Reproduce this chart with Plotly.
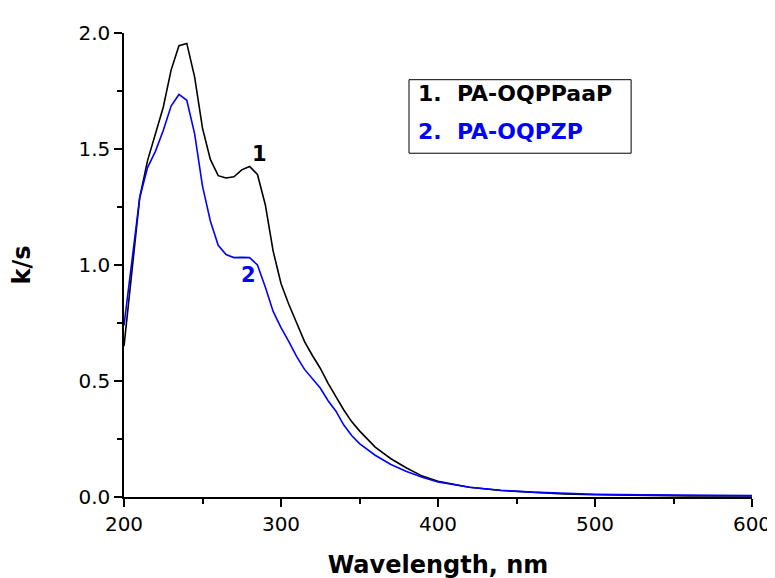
import plotly.graph_objects as go

wavelength = [200, 205, 210, 215, 220, 225, 230, 235, 240, 245, 250, 255, 260, 265, 270,
              275, 280, 285, 290, 295, 300, 305, 310, 315, 320, 325, 330, 335, 340, 345,
              350, 360, 370, 380, 390, 400, 420, 440, 460, 480, 500, 530, 560, 600]

ks_pa_oqppaap = [0.65, 0.97, 1.29, 1.45, 1.56, 1.68, 1.84, 1.945, 1.955, 1.81, 1.59, 1.455,
                 1.385, 1.375, 1.38, 1.41, 1.425, 1.39, 1.26, 1.06, 0.92, 0.83, 0.75, 0.67,
                 0.61, 0.555, 0.49, 0.43, 0.375, 0.325, 0.285, 0.215, 0.165, 0.125, 0.09,
                 0.068, 0.042, 0.028, 0.019, 0.013, 0.010, 0.007, 0.005, 0.004]

ks_pa_oqpzp = [0.74, 1.02, 1.29, 1.42, 1.49, 1.58, 1.685, 1.735, 1.71, 1.565, 1.34, 1.19,
               1.085, 1.045, 1.032, 1.033, 1.032, 1.0, 0.905, 0.80, 0.73, 0.67, 0.605, 0.55,
               0.51, 0.47, 0.415, 0.37, 0.31, 0.265, 0.23, 0.18, 0.14, 0.11, 0.085,
               0.065, 0.042, 0.029, 0.021, 0.016, 0.012, 0.009, 0.007, 0.006]

series_names = ["1.  PA-OQPPaaP", "2.  PA-OQPZP"]
series_colors = ["#000000", "#0000ff"]
curve_labels = ["1", "2"]
label_pos = [(286.5, 1.48), (279.5, 0.957)]

FONT = "DejaVu Sans, Liberation Sans, Arial, sans-serif"

fig = go.Figure()
for ys, name, col in zip([ks_pa_oqppaap, ks_pa_oqpzp], series_names, series_colors):
    fig.add_trace(go.Scatter(x=wavelength, y=ys, mode="lines", name=name,
                             line=dict(color=col, width=1.6), showlegend=False))

for (lx, ly), txt, col in zip(label_pos, curve_labels, series_colors):
    fig.add_annotation(x=lx, y=ly, text="<b>%s</b>" % txt, showarrow=False,
                       font=dict(family=FONT, size=21, color=col))

# legend box drawn as text
fig.add_shape(type="rect", xref="paper", yref="paper",
              x0=(406 - 116) / 639, x1=(632 - 116) / 639,
              y0=(492 - 146) / 467, y1=(492 - 72) / 467,
              line=dict(color="#000000", width=1), fillcolor="white")
for i, (name, col) in enumerate(zip(series_names, series_colors)):
    ypix = [86, 124][i]
    fig.add_annotation(xref="paper", yref="paper", x=(413 - 116) / 639, y=(492 - ypix) / 467,
                       xanchor="left", yanchor="middle", showarrow=False,
                       text="<b>%s</b>" % name.replace("  ", "&nbsp;&nbsp;"),
                       font=dict(family=FONT, size=22, color=col))

fig.update_layout(
    width=775, height=578,
    margin=dict(l=116, r=20, t=25, b=86),
    paper_bgcolor="white", plot_bgcolor="white",
    font=dict(family=FONT, size=20, color="black"),
    showlegend=False,
)
fig.update_xaxes(range=[200, 600], dtick=100, tick0=200, showline=True, linecolor="black",
                 linewidth=1.5, ticks="outside", ticklen=8, tickwidth=1.5, tickcolor="black",
                 showgrid=False, zeroline=False,
                 minor=dict(dtick=50, ticks="outside", ticklen=5, tickwidth=1.5, tickcolor="black"),
                 title=dict(text="<b>Wavelength, nm</b>", font=dict(size=24), standoff=21),
                 tickfont=dict(size=20))
fig.update_yaxes(range=[0, 2.0], dtick=0.5, tickformat=".1f", showline=True, linecolor="black",
                 linewidth=1.5, ticks="outside", ticklen=8, tickwidth=1.5, tickcolor="black",
                 showgrid=False, zeroline=False,
                 minor=dict(dtick=0.25, ticks="outside", ticklen=5, tickwidth=1.5, tickcolor="black"),
                 title=dict(text="<b>k/s</b>", font=dict(size=24), standoff=42),
                 tickfont=dict(size=20))

fig.write_html("out.html")
